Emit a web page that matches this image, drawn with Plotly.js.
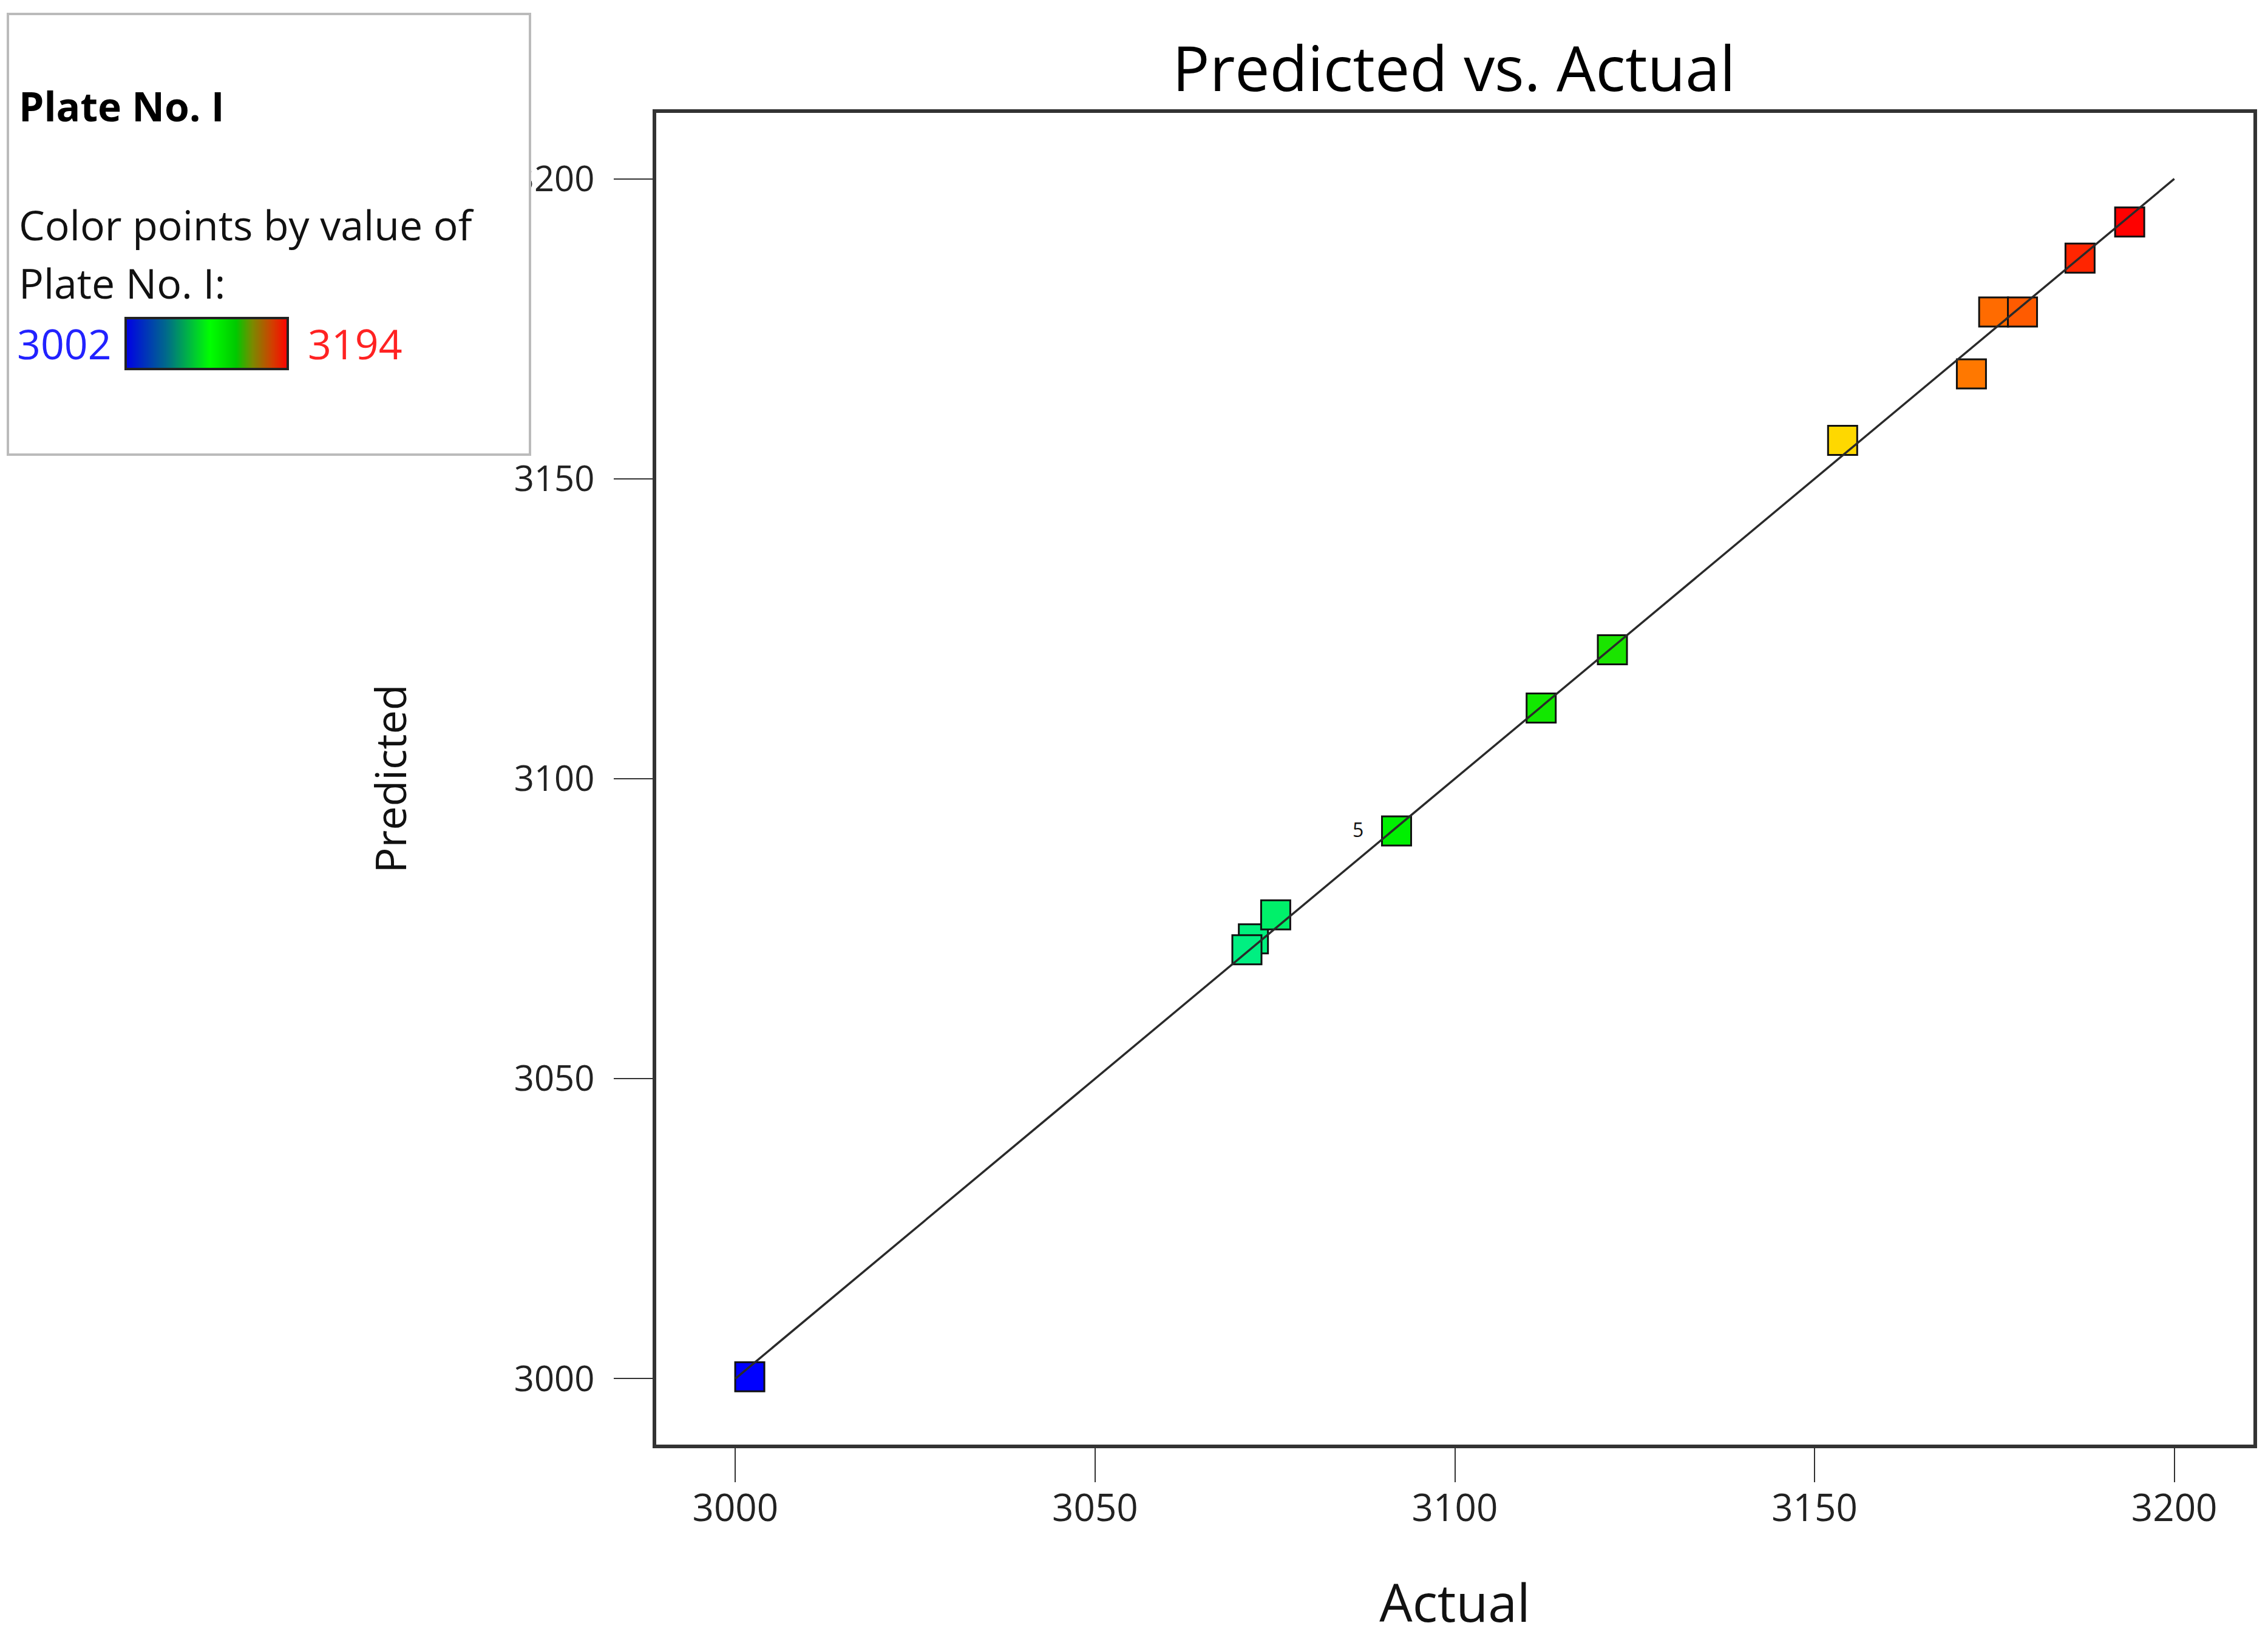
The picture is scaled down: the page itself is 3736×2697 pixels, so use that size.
<!DOCTYPE html>
<html>
<head>
<meta charset="utf-8">
<script src="https://cdn.plot.ly/plotly-3.0.1.min.js"></script>
<style>html,body{margin:0;padding:0;background:#fff;}#chart{width:3736px;height:2697px;}</style>
</head>
<body>
<div id="chart"></div>
<script>
// ---- data ----
const actual    = [3002.0, 3072.0, 3071.1, 3075.1, 3091.9, 3112.0, 3121.9, 3153.9, 3171.8, 3174.9, 3178.9, 3186.9, 3193.8];
const predicted = [3000.3, 3073.3, 3071.5, 3077.3, 3091.3, 3111.8, 3121.5, 3156.4, 3167.5, 3177.8, 3177.8, 3186.8, 3192.8];
const runLabels = ['', '', '', '', '5', '', '', '', '', '', '', '', ''];
const fitLineX  = [3000, 3200];
const fitLineY  = [3000, 3200];
const tickVals  = [3000, 3050, 3100, 3150, 3200];
const colorMin  = 3002;
const colorMax  = 3194;

// ---- layout constants (pixels of the full figure) ----
const W = 3736, H = 2697;
const plotL = 1081, plotR = 3712, plotT = 186, plotB = 2380;
const fx = v => v / W;          // pixel -> paper x (paper = whole figure)
const fy = v => 1 - v / H;      // pixel -> paper y
const FONT = 'Open Sans, Noto Sans, sans-serif';

const pointScale = [
  [0.000, '#0000FF'],
  [0.362, '#00F080'],
  [0.469, '#00F000'],
  [0.570, '#12E800'],
  [0.625, '#1AE400'],
  [0.792, '#FFD800'],
  [0.885, '#FF7700'],
  [0.922, '#FF5A00'],
  [0.964, '#FF2400'],
  [1.000, '#FF0000']
];
const barScale = [
  [0.00, '#0000E6'],
  [0.25, '#006A8A'],
  [0.52, '#00FF00'],
  [0.68, '#00C800'],
  [0.78, '#7A8A00'],
  [0.90, '#D04000'],
  [1.00, '#FF0000']
];

const points = {
  type: 'scatter', mode: 'markers',
  x: actual, y: predicted, xaxis: 'x', yaxis: 'y',
  marker: {
    symbol: 'square', size: 48,
    color: actual, colorscale: pointScale, cmin: colorMin, cmax: colorMax,
    showscale: false,
    line: {color: '#111', width: 3}
  },
  hoverinfo: 'x+y', showlegend: false
};

const fit = {
  type: 'scatter', mode: 'lines',
  x: fitLineX, y: fitLineY, xaxis: 'x', yaxis: 'y',
  line: {color: '#2a2a2a', width: 3.5},
  hoverinfo: 'skip', showlegend: false
};

// gradient key of the colour legend
const gradient = {
  type: 'heatmap', xaxis: 'x2', yaxis: 'y2',
  x: [0, 1], y: [0, 1],
  z: [[colorMin, colorMax], [colorMin, colorMax]],
  zmin: colorMin, zmax: colorMax, colorscale: barScale,
  zsmooth: 'best', showscale: false, hoverinfo: 'skip'
};

const annotations = [
  {xref: 'paper', yref: 'paper', x: fx(29), y: fy(174), xanchor: 'left', yanchor: 'middle',
   text: '<b>Plate No. I</b>', showarrow: false, font: {family: FONT, size: 66, color: '#000'}},
  {xref: 'paper', yref: 'paper', x: fx(29), y: fy(369), xanchor: 'left', yanchor: 'middle',
   text: 'Color points by value of', showarrow: false, font: {family: FONT, size: 68, color: '#111'}},
  {xref: 'paper', yref: 'paper', x: fx(29), y: fy(465), xanchor: 'left', yanchor: 'middle',
   text: 'Plate No. I:', showarrow: false, font: {family: FONT, size: 68, color: '#111'}},
  {xref: 'paper', yref: 'paper', x: fx(186), y: fy(565), xanchor: 'right', yanchor: 'middle',
   text: String(colorMin), showarrow: false, font: {family: FONT, size: 68, color: '#2222FF'}},
  {xref: 'paper', yref: 'paper', x: fx(505), y: fy(565), xanchor: 'left', yanchor: 'middle',
   text: String(colorMax), showarrow: false, font: {family: FONT, size: 68, color: '#FF2222'}}
];
runLabels.forEach((t, i) => {
  if (t) annotations.push({
    x: actual[i], y: predicted[i], xref: 'x', yref: 'y',
    xshift: -64, yshift: 2, text: t, showarrow: false,
    font: {family: FONT, size: 32, color: '#111'}
  });
});

const layout = {
  width: W, height: H,
  paper_bgcolor: '#fff', plot_bgcolor: '#fff',
  margin: {l: 0, r: 0, t: 0, b: 0, pad: 0, autoexpand: false},
  font: {family: FONT, color: '#111'},
  title: {
    text: 'Predicted vs. Actual',
    xref: 'container', yref: 'container',
    x: 2395 / W, xanchor: 'center',
    y: 1 - 114 / H, yanchor: 'middle',
    font: {family: FONT, size: 102, color: '#000'}
  },
  xaxis: {
    domain: [fx(plotL), fx(plotR)], anchor: 'y',
    range: [2989, 3211], tickvals: tickVals, ticktext: tickVals.map(String),
    showgrid: false, zeroline: false, automargin: false,
    showline: true, linecolor: '#333', linewidth: 6, mirror: true,
    ticks: 'outside', ticklen: 56, tickwidth: 2, tickcolor: '#333',
    ticklabelstandoff: -10,
    tickfont: {family: FONT, size: 62, color: '#222'},
    title: {text: 'Actual', standoff: 100, font: {family: FONT, size: 86, color: '#111'}}
  },
  yaxis: {
    domain: [fy(plotB), fy(plotT)], anchor: 'x',
    range: [2989, 3211], tickvals: tickVals, ticktext: tickVals.map(String),
    showgrid: false, zeroline: false, automargin: false,
    showline: true, linecolor: '#333', linewidth: 6, mirror: true,
    ticks: 'outside', ticklen: 64, tickwidth: 2, tickcolor: '#333',
    ticklabelstandoff: 20,
    tickfont: {family: FONT, size: 58, color: '#222'},
    title: {text: 'Predicted', standoff: 156, font: {family: FONT, size: 70, color: '#111'}}
  },
  xaxis2: {domain: [fx(207), fx(474)], anchor: 'y2', range: [0, 1], visible: false, fixedrange: true},
  yaxis2: {domain: [fy(608), fy(524)], anchor: 'x2', range: [0, 1], visible: false, fixedrange: true},
  shapes: [
    // legend panel hides what sits under its right edge (as in the reference)
    {type: 'rect', xref: 'paper', yref: 'paper',
     x0: fx(800), x1: fx(873), y0: fy(345), y1: fy(245),
     line: {width: 0}, fillcolor: '#FFFFFF', layer: 'above'},
    {type: 'rect', xref: 'paper', yref: 'paper',
     x0: fx(13), x1: fx(873), y0: fy(749), y1: fy(23),
     line: {color: '#BBBBBB', width: 4}, fillcolor: 'rgba(0,0,0,0)', layer: 'above'},
    {type: 'rect', xref: 'paper', yref: 'paper',
     x0: fx(207), x1: fx(474), y0: fy(608), y1: fy(524),
     line: {color: '#222', width: 4}, fillcolor: 'rgba(0,0,0,0)', layer: 'above'}
  ],
  annotations: annotations,
  showlegend: false
};

Plotly.newPlot('chart', [points, fit, gradient], layout, {displayModeBar: false, staticPlot: true});
</script>
</body>
</html>
